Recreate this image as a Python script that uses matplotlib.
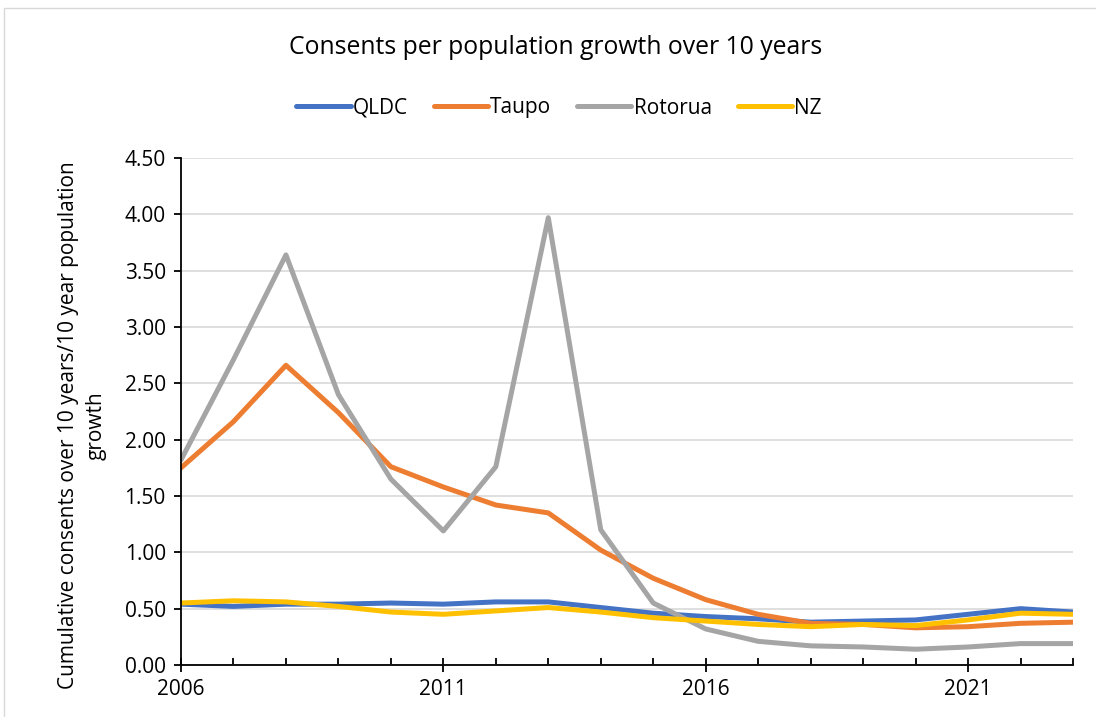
import matplotlib.pyplot as plt
from matplotlib.ticker import MultipleLocator, FormatStrFormatter
from matplotlib.patches import Rectangle

plt.rcParams['font.family'] = ['Open Sans', 'DejaVu Sans']

# yearly values, 2006-2023
years = list(range(2006, 2024))
qldc = [0.54, 0.52, 0.54, 0.54, 0.55, 0.54, 0.56, 0.56, 0.51, 0.46,
        0.43, 0.41, 0.38, 0.39, 0.40, 0.45, 0.50, 0.47]
taupo = [1.75, 2.16, 2.66, 2.24, 1.76, 1.58, 1.42, 1.35, 1.02, 0.77,
         0.58, 0.45, 0.37, 0.36, 0.33, 0.34, 0.37, 0.38]
rotorua = [1.82, 2.71, 3.64, 2.40, 1.65, 1.19, 1.76, 3.97, 1.20, 0.55,
           0.32, 0.21, 0.17, 0.16, 0.14, 0.16, 0.19, 0.19]
nz = [0.55, 0.57, 0.56, 0.52, 0.47, 0.45, 0.48, 0.51, 0.47, 0.42,
      0.39, 0.36, 0.34, 0.36, 0.35, 0.40, 0.46, 0.45]
year_labels = [2006, 2011, 2016, 2021]

series = [('QLDC', qldc, '#4472C4'),
          ('Taupo', taupo, '#ED7D31'),
          ('Rotorua', rotorua, '#A5A5A5'),
          ('NZ', nz, '#FFC000')]

fig = plt.figure(figsize=(10.96, 7.17), dpi=100)
ax = fig.add_axes([181/1096, 1 - 665/717, (1073-181)/1096, (665-158)/717])

# chart frame
fig.patches.append(Rectangle((4/1096, -0.01), 1.02, 1 - 8/717 + 0.01,
                             transform=fig.transFigure, fill=False,
                             edgecolor='#d9d9d9', linewidth=1))

for name, vals, col in series:
    ax.plot(years, vals, color=col, linewidth=3.6, label=name,
            solid_capstyle='round', solid_joinstyle='round')

ax.set_xlim(2006, 2023)
ax.set_ylim(0, 4.5)
ax.yaxis.set_major_locator(MultipleLocator(0.5))
ax.yaxis.set_major_formatter(FormatStrFormatter('%.2f'))
ax.set_xticks(year_labels)
ax.xaxis.set_minor_locator(MultipleLocator(1))
ax.grid(axis='y', color='#d9d9d9', linewidth=1.2)
ax.set_axisbelow(True)

for s in ['top', 'right']:
    ax.spines[s].set_visible(False)
for s in ['left', 'bottom']:
    ax.spines[s].set_color('black')
    ax.spines[s].set_linewidth(1.3)

ax.tick_params(axis='y', direction='out', length=5, width=1.3, labelsize=15, pad=6)
ax.tick_params(axis='x', which='major', direction='inout', length=10, width=1.3,
               labelsize=15, pad=5)
ax.tick_params(axis='x', which='minor', direction='in', length=5, width=1.3)

ax.set_ylabel('Cumulative consents over 10 years/10 year population\ngrowth',
              fontsize=15, linespacing=1.45)
ax.yaxis.set_label_coords(-0.083, 0.473)

fig.text(556/1096, 1 - 48/717, 'Consents per population growth over 10 years',
         ha='center', va='center', fontsize=17.8)
fig.legend(loc='center', bbox_to_anchor=(559/1096, 1 - 108/717), ncol=4,
           frameon=False, fontsize=15, handlelength=2.6, handletextpad=0.1,
           columnspacing=1.25)

fig.savefig('out.png', dpi=100)
